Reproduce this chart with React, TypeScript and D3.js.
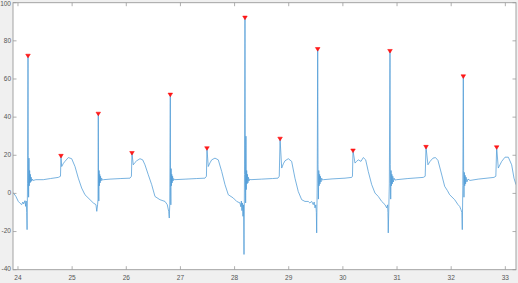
import React from "react";
import * as d3 from "d3";

const W = 518;
const H = 283;

const xTicks = [24, 25, 26, 27, 28, 29, 30, 31, 32, 33];
const yTicks = [-40, -20, 0, 20, 40, 60, 80, 100];

const peakT = [24.185, 24.794, 25.483, 26.105, 26.813, 27.49, 28.192, 28.84, 29.535, 30.187, 30.87, 31.535, 32.224, 32.84];
const peakV = [72.1, 19.6, 41.7, 21.1, 51.7, 23.6, 92.1, 28.6, 75.6, 22.4, 74.6, 24.3, 61.3, 24.1];

const signal: [number, number][] = [
  [23.908, 0.5], [23.96, -1.5], [24.006, -4.2], [24.04, -5.2], [24.068, -5.9], [24.09, -4.5], [24.105, -5.5],
  [24.129, -3.8], [24.142, -6.8], [24.152, -4], [24.161, -10], [24.168, -19], [24.176, 5], [24.185, 72.1],
  [24.19, 20], [24.196, -2], [24.203, 18.5], [24.209, 4], [24.215, 12], [24.222, 5.5], [24.229, 10],
  [24.236, 6], [24.244, 8.5], [24.253, 6.5], [24.265, 7.5], [24.28, 6.8], [24.33, 7.2], [24.467, 7.2],
  [24.6, 7.8], [24.744, 8.4], [24.785, 9], [24.794, 19.6], [24.807, 14.1], [24.84, 15.8], [24.868, 16.8],
  [24.929, 18.8], [24.992, 18.2], [25.053, 14.1], [25.114, 8], [25.176, 2.8], [25.237, -0.7], [25.33, -3.3],
  [25.391, -5], [25.44, -5.9], [25.455, -9.4], [25.47, -6], [25.478, -3], [25.483, 41.7],
  [25.488, 5], [25.493, -4], [25.498, 12], [25.504, 4], [25.51, 10], [25.517, 5.5], [25.525, 9],
  [25.533, 6.5], [25.545, 8], [25.56, 7], [25.58, 7.2],
  [25.7, 7.5], [25.9, 7.8], [26.068, 8], [26.095, 9], [26.105, 21.1], [26.129, 15], [26.16, 16.2],
  [26.192, 17.1], [26.253, 18.2], [26.303, 17.6], [26.345, 15], [26.406, 9.8], [26.469, 4.6], [26.53, -1.6],
  [26.622, -3.3], [26.715, -4.2], [26.757, -5.9], [26.783, -9.4], [26.794, -12.9], [26.803, -6], [26.813, 51.7],
  [26.818, 3], [26.823, -6], [26.828, 13], [26.834, 4], [26.84, 10], [26.847, 5.5], [26.855, 9],
  [26.863, 6.5], [26.875, 7.8], [26.89, 7.2],
  [27.1, 7.5], [27.3, 7.8], [27.453, 8], [27.48, 9], [27.49, 23.6], [27.514, 14.1], [27.545, 16],
  [27.577, 17.6], [27.638, 18.5], [27.699, 17.6], [27.762, 11.5], [27.823, 4.6], [27.884, -0.7], [27.976, -2.4],
  [28.039, -4.2], [28.1, -5], [28.115, -7], [28.125, -4], [28.135, -9], [28.145, -5], [28.155, -12],
  [28.165, -6], [28.174, -32], [28.183, 10], [28.192, 92.1], [28.198, 25], [28.204, -5], [28.21, 30],
  [28.216, 2], [28.223, 12], [28.23, 5], [28.238, 10], [28.246, 5.5], [28.255, 8.5], [28.265, 6.5],
  [28.28, 7.5], [28.3, 7.2],
  [28.5, 7.5], [28.7, 7.8], [28.801, 8], [28.825, 9], [28.84, 28.6], [28.87, 13.3], [28.9, 15.5],
  [28.931, 17.1], [28.992, 18.2], [29.054, 16.8], [29.115, 8], [29.176, 1], [29.239, -3.3], [29.3, -4.2],
  [29.361, -4.2], [29.39, -5], [29.424, -4.2], [29.453, -5.9], [29.47, -4.5], [29.485, -7.6], [29.5, -6],
  [29.51, -10], [29.516, -20.7], [29.526, 5], [29.535, 75.6], [29.541, 15], [29.548, -3], [29.555, 12],
  [29.562, 4], [29.57, 10], [29.577, 5], [29.585, 9], [29.595, 6], [29.609, 8], [29.625, 7], [29.64, 7.2],
  [29.8, 7.6], [30.039, 8], [30.163, 8.4], [30.177, 9], [30.187, 22.4], [30.224, 15.9], [30.254, 16.8],
  [30.284, 17.6], [30.334, 16.8], [30.377, 18.8], [30.421, 17.6], [30.469, 11.5], [30.532, 4.6], [30.593, 0.2],
  [30.654, -1.6], [30.717, -4.2], [30.778, -5.9], [30.809, -7.6], [30.825, -6], [30.832, -10], [30.838, -20.7],
  [30.858, 5], [30.87, 74.6], [30.876, 15], [30.883, -3], [30.89, 12], [30.897, 4], [30.905, 10],
  [30.913, 5], [30.922, 9], [30.932, 6], [30.945, 8], [30.962, 7], [30.993, 7.2],
  [31.2, 7.8], [31.485, 8.4], [31.52, 9], [31.535, 24.3], [31.571, 15], [31.61, 16.8], [31.664, 18.5],
  [31.71, 18.8], [31.756, 17.3], [31.817, 10.7], [31.88, 3.7], [31.93, 1.5], [31.972, -0.7], [32.065, -3.3],
  [32.126, -5.9], [32.157, -6.8], [32.181, -8.5], [32.197, -10], [32.205, -19], [32.215, 4], [32.224, 61.3],
  [32.23, 12], [32.236, -2], [32.243, 11], [32.25, 4], [32.258, 9.5], [32.266, 5], [32.275, 8.5],
  [32.29, 6], [32.31, 7.5], [32.347, 6.8],
  [32.5, 7.5], [32.79, 8.4], [32.825, 9], [32.84, 24.1], [32.87, 13.3], [32.933, 16.8], [32.994, 19],
  [33.055, 19], [33.117, 15], [33.16, 8], [33.197, 4.6],
];

const X0 = 13, X1 = 516, Y0 = 2.7, Y1 = 269.7;

export default function App() {
  const x = d3.scaleLinear().domain([23.908, 33.197]).range([X0, X1]);
  const y = d3.scaleLinear().domain([-40, 100]).range([Y1, Y0]);
  const line = d3.line<[number, number]>().x((d) => x(d[0])).y((d) => y(d[1]));
  const axisColor = "#9a9a9a";
  const textColor = "#555";
  const font = "Liberation Sans, Arial, sans-serif";
  return (
    <div>
      <style>{`body{margin:0}`}</style>
      <svg width={W} height={H} style={{ display: "block" }}>
        <rect x={0} y={0} width={W} height={H} fill="#f0f0f0" />
        <rect x={X0} y={Y0} width={X1 - X0} height={Y1 - Y0} fill="#ffffff" />
        <defs>
          <clipPath id="plot">
            <rect x={X0} y={Y0} width={X1 - X0} height={Y1 - Y0} />
          </clipPath>
        </defs>
        <g clipPath="url(#plot)">
          <path d={line(signal) || ""} fill="none" stroke="#4f9bd6" strokeWidth={0.9} strokeOpacity={0.85} strokeLinejoin="round" />
          {peakT.map((t, i) => {
            const cx = x(t);
            const cy = y(peakV[i]);
            return (
              <path
                key={i}
                d={`M${cx - 2.3},${cy - 1.7} L${cx + 2.3},${cy - 1.7} L${cx},${cy + 1.9} Z`}
                fill="#ff1a1a"
                stroke="#ff0000"
                strokeWidth={0.5}
              />
            );
          })}
        </g>
        <rect x={X0} y={Y0} width={X1 - X0} height={Y1 - Y0} fill="none" stroke={axisColor} strokeWidth={0.9} />
        {xTicks.map((t) => (
          <g key={t}>
            <line x1={x(t)} x2={x(t)} y1={Y1} y2={Y1 - 3.5} stroke={axisColor} strokeWidth={0.8} />
            <line x1={x(t)} x2={x(t)} y1={Y0} y2={Y0 + 3.5} stroke={axisColor} strokeWidth={0.8} />
            <text x={x(t)} y={279.5} fontSize={6.5} fontFamily={font} fill={textColor} textAnchor="middle">
              {t}
            </text>
          </g>
        ))}
        {yTicks.map((v) => (
          <g key={v}>
            <line x1={X0} x2={X0 + 3.5} y1={y(v)} y2={y(v)} stroke={axisColor} strokeWidth={0.8} />
            <line x1={X1} x2={X1 - 3.5} y1={y(v)} y2={y(v)} stroke={axisColor} strokeWidth={0.8} />
            <text x={11} y={Math.max(y(v), 4.2)} fontSize={6.5} fontFamily={font} fill={textColor} textAnchor="end" dominantBaseline="middle">
              {v}
            </text>
          </g>
        ))}
      </svg>
    </div>
  );
}
